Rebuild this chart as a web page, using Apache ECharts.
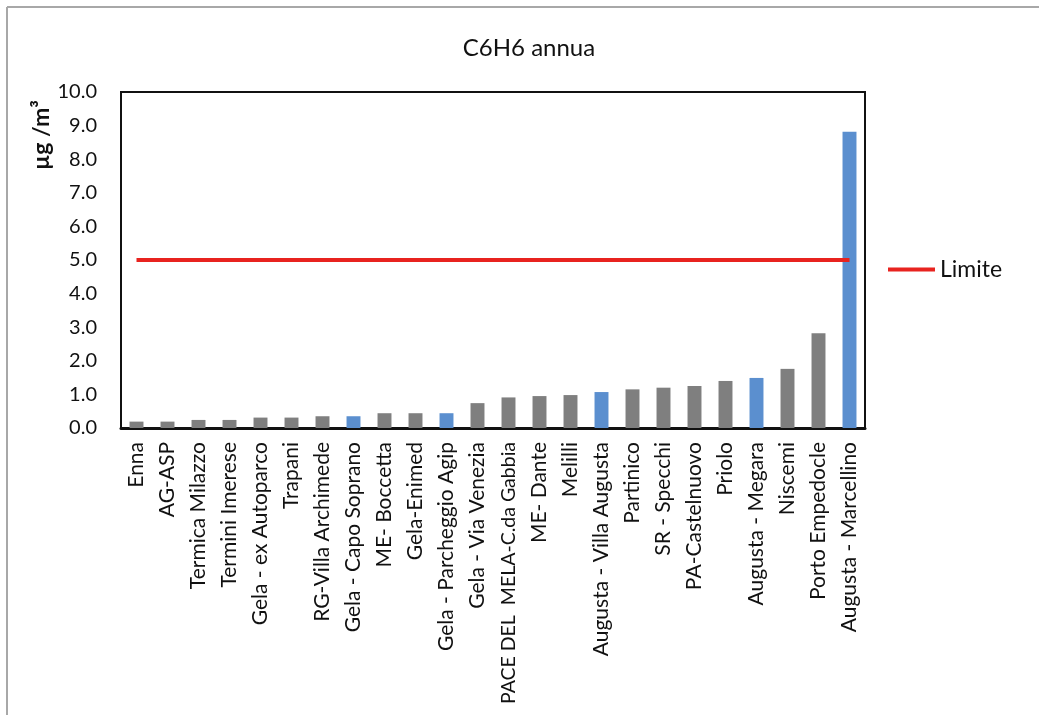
<!DOCTYPE html>
<html>
<head>
<meta charset="utf-8">
<script src="https://cdn.jsdelivr.net/npm/echarts@6/dist/echarts.min.js"></script>
<style>
html,body{margin:0;padding:0;background:#fff;}
#chart{width:1039px;height:715px;}
</style>
</head>
<body>
<div id="chart"></div>
<script>
const categories = ["Enna","AG-ASP","Termica Milazzo","Termini Imerese","Gela - ex Autoparco","Trapani","RG-Villa Archimede","Gela - Capo Soprano","ME- Boccetta","Gela-Enimed","Gela - Parcheggio Agip","Gela - Via Venezia","PACE DEL  MELA-C.da Gabbia","ME- Dante","Melilli","Augusta - Villa Augusta","Partinico","SR - Specchi","PA-Castelnuovo","Priolo","Augusta - Megara","Niscemi","Porto Empedocle","Augusta - Marcellino"];
const values = [0.19,0.19,0.24,0.24,0.31,0.31,0.35,0.35,0.44,0.44,0.44,0.74,0.91,0.95,0.98,1.07,1.15,1.20,1.25,1.40,1.49,1.76,2.82,8.82];
const highlighted = [false,false,false,false,false,false,false,true,false,false,true,false,false,false,false,true,false,false,false,false,true,false,false,true];
const limite = [5,5,5,5,5,5,5,5,5,5,5,5,5,5,5,5,5,5,5,5,5,5,5,5];
const yTicks = ["0.0","1.0","2.0","3.0","4.0","5.0","6.0","7.0","8.0","9.0","10.0"];

const GREY = '#7f7f7f', BLUE = '#5b8fcf', RED = '#e8231f';
const FONT = 'Lato';

const chart = echarts.init(document.getElementById('chart'), null, {renderer:'canvas'});
chart.setOption({
  backgroundColor:'#fff',
  animation:false,
  title:{
    text:'C6H6 annua', left:524, top:31, textAlign:'center',
    textStyle:{fontFamily:FONT, fontSize:24, fontWeight:'normal', color:'#111'}
  },
  legend:{
    data:[{name:'Limite', icon:'rect'}],
    left:888, top:258, padding:0, itemWidth:47, itemHeight:4, itemGap:4,
    textStyle:{fontFamily:FONT, fontSize:23, color:'#111'}
  },
  grid:{left:121, right:174, top:92, bottom:287, show:true, borderColor:'#111', borderWidth:2, backgroundColor:'transparent'},
  xAxis:{
    type:'category',
    data: categories.map(c => c.startsWith('PACE') ? {value:c, textStyle:{fontSize:19.5}} : c),
    boundaryGap:true,
    axisLine:{show:true, lineStyle:{color:'#111', width:3}},
    axisTick:{show:false},
    axisLabel:{rotate:90, interval:0, margin:14, fontFamily:FONT, fontSize:21, color:'#111'}
  },
  yAxis:{
    type:'value', min:0, max:10, interval:1,
    name:'µg /m³', nameLocation:'end', nameRotate:90, nameGap:0,
    nameTextStyle:{fontFamily:FONT, fontSize:23, fontWeight:'bold', color:'#111', align:'right', verticalAlign:'bottom', padding:[0,8,68,0]},
    axisLine:{show:true, lineStyle:{color:'#111', width:2}},
    axisTick:{show:false},
    splitLine:{show:false},
    axisLabel:{margin:24, fontFamily:FONT, fontSize:20, color:'#111', formatter:(v)=>yTicks[Math.round(v)]}
  },
  series:[
    {
      type:'bar', name:'C6H6', barWidth:'45%',
      data: values.map((v,i)=>({value:v, itemStyle:{color: highlighted[i]?BLUE:GREY}})),
      z:2
    },
    {
      type:'line', name:'Limite', data:limite, symbol:'none', showSymbol:false,
      lineStyle:{color:RED, width:4}, itemStyle:{color:RED}, z:3
    }
  ],
  graphic:[
    {type:'line', shape:{x1:7, y1:7, x2:1039, y2:7}, style:{stroke:'#a8a8a8', lineWidth:2}},
    {type:'line', shape:{x1:7, y1:7, x2:7, y2:715}, style:{stroke:'#a8a8a8', lineWidth:2}}
  ]
});
</script>
</body>
</html>
